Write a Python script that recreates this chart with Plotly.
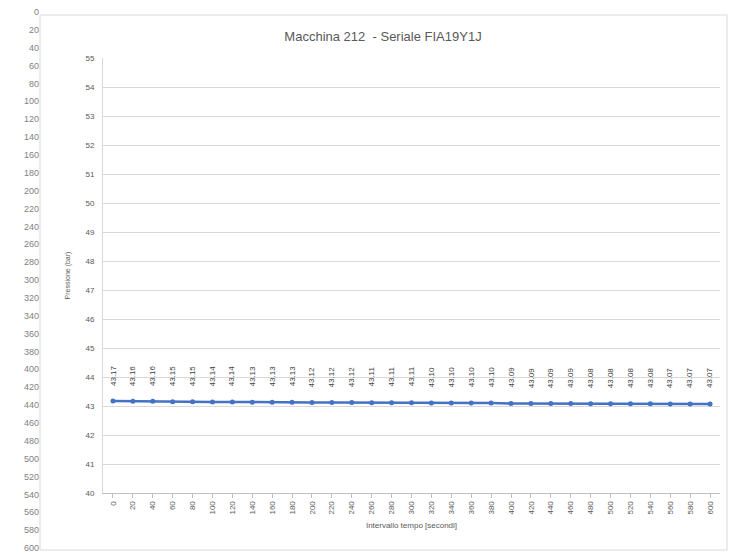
import plotly.graph_objects as go

# ---- data ----
time_s = [0, 20, 40, 60, 80, 100, 120, 140, 160, 180, 200, 220, 240, 260, 280, 300,
          320, 340, 360, 380, 400, 420, 440, 460, 480, 500, 520, 540, 560, 580, 600]
pressure_bar = [43.17, 43.16, 43.16, 43.15, 43.15, 43.14, 43.14, 43.13, 43.13, 43.13,
                43.12, 43.12, 43.12, 43.11, 43.11, 43.11, 43.10, 43.10, 43.10, 43.10,
                43.09, 43.09, 43.09, 43.09, 43.08, 43.08, 43.08, 43.08, 43.07, 43.07, 43.07]
sheet_column = time_s  # spreadsheet cells visible at the left
title = "Macchina 212  - Seriale FIA19Y1J"
y_title = "Pressione (bar)"
x_title = "Intervallo tempo [secondi]"

W, H = 731, 555
FONT = "Liberation Sans, Arial, sans-serif"
GRAY = "#595959"

x_cats = [str(t) for t in time_s]

fig = go.Figure()
fig.add_trace(go.Scatter(
    x=x_cats, y=pressure_bar, mode="lines+markers",
    line=dict(color="#4472C4", width=2.5),
    marker=dict(color="#4472C4", size=5),
    showlegend=False, hoverinfo="skip"))

# invisible trace for the sheet column axis
fig.add_trace(go.Scatter(x=[None], y=[None], xaxis="x2", yaxis="y2",
                         showlegend=False, hoverinfo="skip"))

for i, v in enumerate(pressure_bar):
    fig.add_annotation(x=i, y=v, xref="x", yref="y", text=f"{v:.2f}",
                       showarrow=False, textangle=-90, yshift=26,
                       font=dict(family=FONT, size=8, color="#404040"))

# plot area in pixels
pl, pr, pt, pb = 103, 720, 58, 493

fig.update_layout(
    width=W, height=H,
    margin=dict(l=0, r=0, t=0, b=0, autoexpand=False),
    paper_bgcolor="white", plot_bgcolor="rgba(0,0,0,0)",
    font=dict(family=FONT, color=GRAY),
    xaxis=dict(domain=[pl / W, pr / W], type="category", range=[-0.5, 30.5],
               tickangle=-90, tickfont=dict(size=8, color=GRAY), automargin=False,
               showgrid=False, showline=True, linecolor="#bfbfbf", linewidth=1,
               ticks="outside", ticklen=4, tickcolor="#bfbfbf",
               title=dict(text=x_title, font=dict(size=8, color=GRAY), standoff=8),
               zeroline=False, fixedrange=True),
    yaxis=dict(domain=[(H - pb) / H, (H - pt) / H], range=[40, 55], dtick=1,
               tickfont=dict(size=8, color=GRAY), showgrid=True, gridcolor="#d9d9d9",
               gridwidth=1, showline=True, linecolor="#d9d9d9", ticks="", ticklabelstandoff=6,
               automargin=False,
               title=dict(text=y_title, font=dict(size=7, color=GRAY), standoff=14),
               zeroline=False, fixedrange=True),
    xaxis2=dict(domain=[39 / W, 41 / W], anchor="y2", visible=False, fixedrange=True),
    yaxis2=dict(anchor="free", position=39 / W, side="left",
                domain=[0, 1], automargin=False,
                range=[(H - 12) * 600 / 536, -12 * 600 / 536],
                tickvals=sheet_column, ticktext=[str(v) for v in sheet_column],
                tickfont=dict(size=9, color="#7f7f7f"), showgrid=False,
                showline=False, ticks="", zeroline=False, fixedrange=True),
    title=dict(text=title, x=383 / W, xanchor="center", y=1 - 36 / H, yanchor="middle",
               xref="paper", yref="paper",
               font=dict(size=13, color=GRAY, family=FONT)),
)

# chart area border
fig.add_shape(type="rect", xref="paper", yref="paper",
              x0=40 / W, x1=727 / W, y0=1 - 550 / H, y1=1 - 15 / H,
              line=dict(color="#d9d9d9", width=1), fillcolor="rgba(0,0,0,0)", layer="below")

fig.write_html("out.html", config={"displayModeBar": False},
               post_script="document.body.style.margin='0';")
